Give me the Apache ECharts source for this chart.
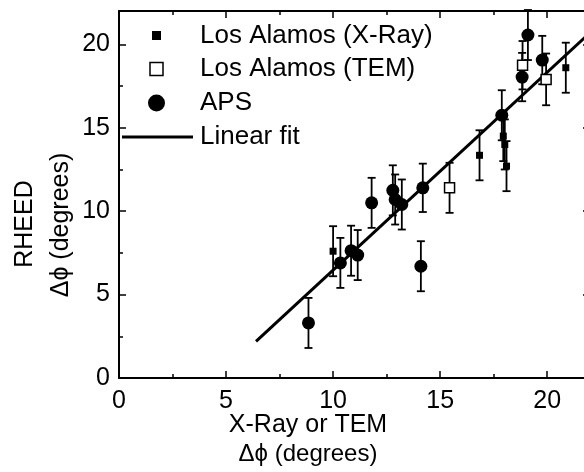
<!DOCTYPE html>
<html>
<head>
<meta charset="utf-8">
<script src="https://cdn.jsdelivr.net/npm/echarts@6/dist/echarts.min.js"></script>
<style>
  html, body { margin: 0; padding: 0; background: #fff; }
  #chart { width: 584px; height: 472px; }
</style>
</head>
<body>
<div id="chart"></div>
<script>
// Los Alamos X-Ray
const xrayX = [10.0, 16.84, 17.95, 18.02, 18.1, 20.87];
const xrayY = [7.6, 13.35, 14.5, 14.0, 12.7, 18.6];
const xrayErr = [1.5, 1.5, 1.5, 1.5, 1.5, 1.5];

// Los Alamos TEM
const temX = [15.44, 18.85, 19.95];
const temY = [11.4, 18.75, 17.9];
const temErr = [1.5, 1.45, 1.55];

// APS
const apsX = [8.85, 10.34, 10.84, 11.15, 11.8, 12.79, 12.9, 13.21, 14.19, 14.1, 17.88, 19.1, 18.83, 19.77];
const apsY = [3.3, 6.9, 7.63, 7.37, 10.5, 11.25, 10.7, 10.4, 11.4, 6.7, 15.75, 20.56, 18.04, 19.06];
const apsErr = [1.5, 1.5, 1.5, 1.5, 1.5, 1.5, 1.5, 1.5, 1.45, 1.5, 1.5, 1.5, 1.45, 1.45];

// linear fit
const fitX = [6.4, 22];
const fitY = [2.2, 20.7];

const xTicks = [0, 5, 10, 15, 20];
const yTicks = [0, 5, 10, 15, 20];
const legendNames = ['Los Alamos (X-Ray)', 'Los Alamos (TEM)', 'APS', 'Linear fit'];

const font = '"Liberation Sans", Arial, Helvetica, sans-serif';
const black = '#000';

function pts(xs, ys) {
    return xs.map((x, i) => [x, ys[i]]);
}
function errPts(xs, ys, es) {
    return xs.map((x, i) => [x, ys[i], es[i]]);
}

function renderErr(params, api) {
    const x = api.value(0), y = api.value(1), e = api.value(2);
    const top = api.coord([x, y + e]);
    const bot = api.coord([x, y - e]);
    const w = 4;
    const st = { stroke: black, lineWidth: 1.8 };
    return {
        type: 'group',
        children: [
            { type: 'line', shape: { x1: top[0], y1: top[1], x2: bot[0], y2: bot[1] }, style: st },
            { type: 'line', shape: { x1: top[0] - w, y1: top[1], x2: top[0] + w, y2: top[1] }, style: st },
            { type: 'line', shape: { x1: bot[0] - w, y1: bot[1], x2: bot[0] + w, y2: bot[1] }, style: st }
        ]
    };
}

function errSeries(data) {
    return {
        type: 'custom',
        renderItem: renderErr,
        encode: { x: 0, y: 1 },
        data: data,
        z: 1,
        silent: true
    };
}

function makeAxis(kind, pos, ticks, showLabel) {
    return {
        type: 'value',
        position: pos,
        min: 0,
        max: 22,
        interval: 5,
        axisLine: { show: true, onZero: false, lineStyle: { color: black, width: 2 } },
        axisTick: { show: true, inside: true, length: 7, lineStyle: { color: black, width: 1.5 } },
        minorTick: { show: true, splitNumber: 2, length: 4, lineStyle: { color: black, width: 1.5 } },
        splitLine: { show: false },
        axisLabel: {
            show: showLabel,
            color: black,
            fontSize: 25,
            fontFamily: font,
            margin: kind === 'x' ? 11 : 9,
            showMaxLabel: false,
            formatter: v => ticks.indexOf(v) >= 0 ? String(v) : ''
        }
    };
}

// legend drawn by hand, the boxed key in the top-left corner
const keyFont = '26px ' + font;
const keyRows = [36, 69, 103, 137];
const keyIcons = [
    { type: 'rect', shape: { x: 152, y: keyRows[0] - 5, width: 9, height: 9 }, style: { fill: black } },
    { type: 'rect', shape: { x: 150, y: keyRows[1] - 6.5, width: 13, height: 13 }, style: { fill: '#fff', stroke: black, lineWidth: 1.5 } },
    { type: 'circle', shape: { cx: 156.5, cy: keyRows[2], r: 8.5 }, style: { fill: black } },
    { type: 'line', shape: { x1: 122, y1: keyRows[3], x2: 193, y2: keyRows[3] }, style: { stroke: black, lineWidth: 3 } }
];
const keyTexts = legendNames.map((n, i) => ({
    type: 'text', x: 200, y: keyRows[i],
    style: { text: n, fill: black, font: keyFont, verticalAlign: 'middle' }
}));

const chart = echarts.init(document.getElementById('chart'), null, { renderer: 'canvas' });

chart.setOption({
    animation: false,
    backgroundColor: '#fff',
    grid: { left: 119, top: 11, right: -6, bottom: 94, containLabel: false, outerBoundsMode: 'none' },
    xAxis: [
        makeAxis('x', 'bottom', xTicks, true),
        makeAxis('x', 'top', xTicks, false)
    ],
    yAxis: [
        makeAxis('y', 'left', yTicks, true),
        makeAxis('y', 'right', yTicks, false)
    ],
    graphic: keyIcons.concat(keyTexts).concat([
        { type: 'text', x: 25, y: 224, rotation: Math.PI / 2,
          style: { text: 'RHEED', fill: black, font: '25px ' + font, align: 'center', verticalAlign: 'middle' } },
        { type: 'text', x: 61, y: 225, rotation: Math.PI / 2,
          style: { text: 'Δϕ (degrees)', fill: black, font: '25px ' + font, align: 'center', verticalAlign: 'middle' } },
        { type: 'text', x: 308, y: 425,
          style: { text: 'X-Ray or TEM', fill: black, font: '25px ' + font, align: 'center', verticalAlign: 'middle' } },
        { type: 'text', x: 308, y: 454,
          style: { text: 'Δϕ (degrees)', fill: black, font: '24px ' + font, align: 'center', verticalAlign: 'middle' } }
    ]),
    series: [
        errSeries(errPts(xrayX, xrayY, xrayErr)),
        errSeries(errPts(temX, temY, temErr)),
        errSeries(errPts(apsX, apsY, apsErr)),
        {
            name: legendNames[3],
            type: 'line',
            data: pts(fitX, fitY),
            symbol: 'none',
            showSymbol: false,
            lineStyle: { color: black, width: 3 },
            itemStyle: { color: black },
            z: 3,
            silent: true
        },
        {
            name: legendNames[0],
            type: 'scatter',
            symbol: 'rect',
            symbolSize: 7,
            data: pts(xrayX, xrayY),
            itemStyle: { color: black, opacity: 1 },
            z: 4
        },
        {
            name: legendNames[1],
            type: 'scatter',
            symbol: 'rect',
            symbolSize: 10,
            data: pts(temX, temY),
            itemStyle: { color: '#fff', borderColor: black, borderWidth: 1.5, opacity: 1 },
            z: 4
        },
        {
            name: legendNames[2],
            type: 'scatter',
            symbol: 'circle',
            symbolSize: 13,
            data: pts(apsX, apsY),
            itemStyle: { color: black, opacity: 1 },
            z: 5
        }
    ]
});
</script>
</body>
</html>
